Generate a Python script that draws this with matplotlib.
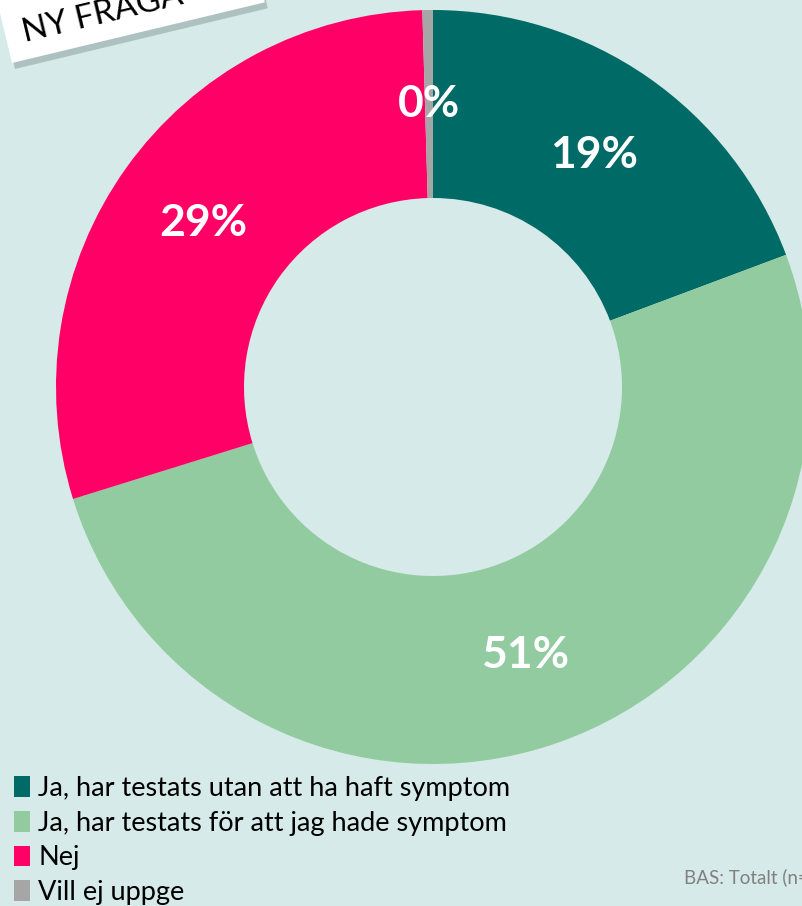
import matplotlib.pyplot as plt
import matplotlib.patches as mpatches

# --------------------------------------------------------------
# Data
# --------------------------------------------------------------

categories = [
    "Ja, har testats utan att ha haft symptom",
    "Ja, har testats för att jag hade symptom",
    "Nej",
    "Vill ej uppge",
]
shares = [19.3, 50.9, 29.35, 0.45]
colors = ["#006B66", "#93CBA0", "#FF0066", "#A6A6A6"]

bg = "#D6EAE9"
plt.rcParams["font.family"] = ["Lato", "DejaVu Sans"]

# --------------------------------------------------------------
# Figure: one axes covering the whole canvas, in pixel units
# --------------------------------------------------------------

W, H = 803, 906
fig = plt.figure(figsize=(W / 100, H / 100), dpi=100, facecolor=bg)
ax = fig.add_axes([0, 0, 1, 1])
ax.set_facecolor(bg)

wedges, texts, autotexts = ax.pie(
    shares,
    colors=colors,
    center=(433, H - 387),
    radius=377,
    startangle=90,
    counterclock=False,
    autopct="%.0f%%",
    pctdistance=0.75,
    wedgeprops=dict(width=188, linewidth=0),
    textprops=dict(color="white", fontsize=32, fontweight="bold"),
    frame=True,
)

ax.set_xlim(0, W)
ax.set_ylim(0, H)
ax.set_aspect("equal")
ax.axis("off")

# legend in the lower left corner
ax.legend(
    wedges,
    categories,
    loc="lower left",
    bbox_to_anchor=(0.004, -0.011),
    frameon=False,
    fontsize=19.5,
    handlelength=0.6,
    handleheight=0.8,
    handletextpad=0.3,
    labelspacing=0.36,
    borderaxespad=0,
)

# base note, cut off at the right edge like the original
ax.text(684, H - 877, "BAS: Totalt (n=", fontsize=13.5, color="#808080",
        va="center", ha="left")

# "NY FRÅGA" sticker with a soft shadow
angle = 13.5
shadow = mpatches.Rectangle((15, H - 69), 260, 90, angle=angle,
                            facecolor="#6f8584", alpha=0.4, edgecolor="none")
sticker = mpatches.Rectangle((12, H - 63), 260, 90, angle=angle,
                             facecolor="white", edgecolor="none")
ax.add_patch(shadow)
ax.add_patch(sticker)
ax.text(103, H - 14, "NY FRÅGA", fontsize=24, color="black", rotation=angle,
        ha="center", va="center", rotation_mode="anchor")

plt.savefig("out.png", dpi=100, facecolor=bg)
